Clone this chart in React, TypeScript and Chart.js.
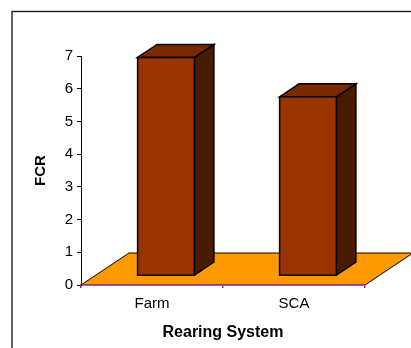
import React, { useEffect, useRef } from "react";
import { Chart, registerables } from "chart.js";

Chart.register(...registerables);

const categories = ["Farm", "SCA"];
const fcrValues = [6.67, 5.47];
const yTicks = [0, 1, 2, 3, 4, 5, 6, 7];
const xTitle = "Rearing System";
const yTitle = "FCR";

const FONT = "'Liberation Sans', Arial, Helvetica, sans-serif";

const FLOOR_DX = 48;
const FLOOR_DY = -32;
const BAR_OX = 14;
const BAR_OY = -9.3;
const BAR_DX = 19.5;
const BAR_DY = -13;

const framePlugin = {
  id: "frame3d",
  beforeDraw(chart: any) {
    const { ctx, chartArea, scales } = chart;
    ctx.save();
    ctx.strokeStyle = "#1e1e1e";
    ctx.lineWidth = 1.4;
    ctx.strokeRect(12, 11.5, 600, 600);
    const y0 = scales.y.getPixelForValue(0);
    const l = chartArea.left;
    const r = chartArea.right;
    ctx.beginPath();
    ctx.moveTo(l, y0);
    ctx.lineTo(r, y0);
    ctx.lineTo(r + FLOOR_DX, y0 + FLOOR_DY);
    ctx.lineTo(l + FLOOR_DX, y0 + FLOOR_DY);
    ctx.closePath();
    ctx.fillStyle = "#FF9900";
    ctx.fill();
    ctx.beginPath();
    ctx.moveTo(l, y0);
    ctx.lineTo(l + FLOOR_DX, y0 + FLOOR_DY);
    ctx.lineTo(r + FLOOR_DX, y0 + FLOOR_DY);
    ctx.lineTo(r, y0);
    ctx.strokeStyle = "#000";
    ctx.lineWidth = 1;
    ctx.stroke();
    ctx.restore();
  },
  afterDatasetsDraw(chart: any) {
    const { ctx } = chart;
    const meta = chart.getDatasetMeta(0);
    ctx.save();
    ctx.lineJoin = "miter";
    ctx.lineWidth = 1.5;
    ctx.strokeStyle = "#000";
    meta.data.forEach((el: any) => {
      const { x, y, base, width } = el.getProps(["x", "y", "base", "width"], true);
      const L = x - width / 2 + BAR_OX;
      const R = x + width / 2 + BAR_OX;
      const T = y + BAR_OY;
      const B = base + BAR_OY;
      ctx.beginPath();
      ctx.moveTo(R, T);
      ctx.lineTo(R + BAR_DX, T + BAR_DY);
      ctx.lineTo(R + BAR_DX, B + BAR_DY);
      ctx.lineTo(R, B);
      ctx.closePath();
      ctx.fillStyle = "#4A1A00";
      ctx.fill();
      ctx.stroke();
      ctx.beginPath();
      ctx.moveTo(L, T);
      ctx.lineTo(L + BAR_DX, T + BAR_DY);
      ctx.lineTo(R + BAR_DX, T + BAR_DY);
      ctx.lineTo(R, T);
      ctx.closePath();
      ctx.fillStyle = "#7A2900";
      ctx.fill();
      ctx.stroke();
      ctx.beginPath();
      ctx.rect(L, T, R - L, B - T);
      ctx.fillStyle = "#993300";
      ctx.fill();
      ctx.stroke();
    });
    ctx.restore();
  },
};

export default function App() {
  const ref = useRef<HTMLCanvasElement>(null);
  useEffect(() => {
    if (!ref.current) return;
    const chart = new Chart(ref.current, {
      type: "bar",
      data: {
        labels: categories,
        datasets: [
          {
            label: yTitle,
            data: fcrValues,
            backgroundColor: "rgba(0,0,0,0)",
            borderWidth: 0,
            barPercentage: 0.4,
            categoryPercentage: 1,
          },
        ],
      },
      options: {
        responsive: false,
        animation: false,
        layout: { padding: { top: 56, right: 46, left: 0, bottom: 0 } },
        plugins: { legend: { display: false }, tooltip: { enabled: false } },
        scales: {
          x: {
            grid: { drawOnChartArea: false, tickLength: 3, color: "#993366", lineWidth: 1.5, offset: true },
            border: { color: "#993366", width: 1.8 },
            ticks: { color: "#000", font: { family: FONT, size: 15 }, padding: 7, maxRotation: 0 },
            title: {
              display: true,
              text: xTitle,
              color: "#000",
              font: { family: FONT, size: 16, weight: "bold" },
              padding: { top: 0, bottom: 6 },
            },
            afterFit: (s: any) => {
              s.height = 63;
            },
          },
          y: {
            min: 0,
            max: 7,
            afterBuildTicks: (s: any) => {
              s.ticks = yTicks.map((v) => ({ value: v }));
            },
            grid: { drawOnChartArea: false, tickLength: 4, color: "#000", lineWidth: 1 },
            border: { color: "#000", width: 1 },
            ticks: { color: "#000", font: { family: FONT, size: 15 }, padding: 4 },
            title: {
              display: true,
              text: yTitle,
              color: "#000",
              font: { family: FONT, size: 15, weight: "bold" },
              padding: { top: 32, bottom: 0 },
            },
            afterFit: (s: any) => {
              s.width = 81;
            },
          },
        },
      },
      plugins: [framePlugin],
    });
    return () => chart.destroy();
  }, []);
  return (
    <div style={{ position: "fixed", left: 0, top: 0, width: 411, height: 348, background: "#fff" }}>
      <canvas ref={ref} width={411} height={348} style={{ display: "block" }} />
    </div>
  );
}
